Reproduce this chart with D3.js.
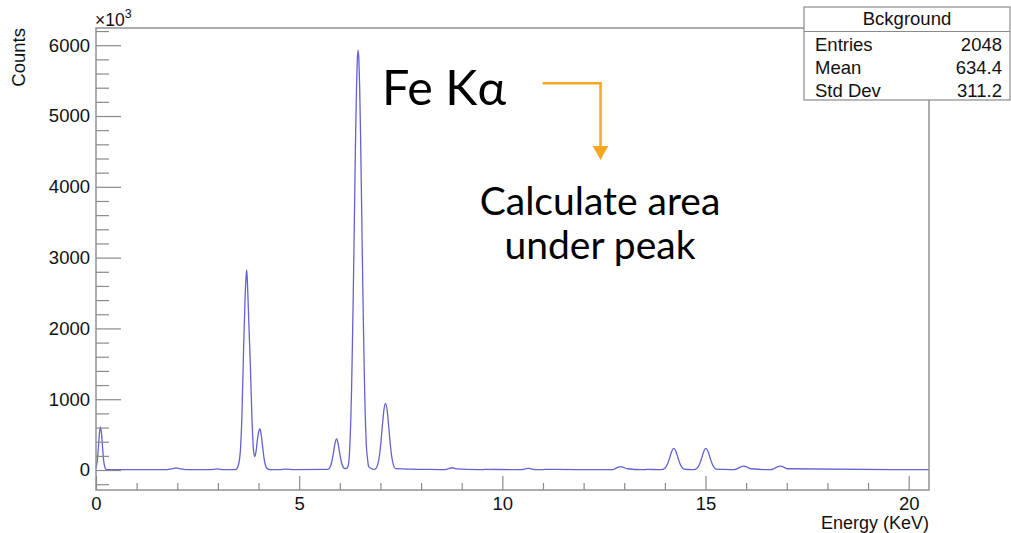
<!DOCTYPE html>
<html>
<head>
<meta charset="utf-8">
<script src="https://cdn.jsdelivr.net/npm/d3@7"></script>
<style>
  html, body { margin: 0; padding: 0; background: #fff; }
  svg { display: block; }
</style>
</head>
<body>
<svg id="chart" width="1011" height="533"></svg>
<script>
// ---- Data (energy in keV, counts) ----
const energy = [
  0.00, 0.03, 0.06, 0.085, 0.11, 0.135, 0.16, 0.19, 0.22, 0.26,
  1.75, 1.85, 1.97, 2.09, 2.20,
  2.80, 2.98, 3.15,
  3.42, 3.46, 3.50, 3.55, 3.59, 3.63, 3.67, 3.70, 3.71, 3.73, 3.76, 3.80, 3.84, 3.88, 3.91,
  3.94, 3.98, 4.02, 4.035, 4.06, 4.10, 4.14, 4.18, 4.23, 4.30,
  4.50, 4.69, 4.88,
  5.70, 5.76, 5.80, 5.84, 5.88, 5.92, 5.96, 6.00, 6.04, 6.08, 6.12,
  6.17, 6.20, 6.23, 6.25, 6.27, 6.29, 6.31, 6.33, 6.35, 6.37, 6.39, 6.41, 6.43,
  6.45, 6.47, 6.49, 6.51, 6.53, 6.55, 6.57, 6.59, 6.61, 6.63, 6.65, 6.68, 6.71,
  6.76, 6.805, 6.845, 6.885, 6.925, 6.965, 7.005, 7.045, 7.085, 7.125, 7.165, 7.205, 7.245, 7.285, 7.325, 7.37,
  8.45, 8.55, 8.66, 8.77, 8.87,
  9.42, 9.49, 9.56,
  10.38, 10.46, 10.55, 10.64, 10.72,
  10.90, 10.97, 11.04,
  12.60, 12.70, 12.77, 12.84, 12.91, 12.98, 13.08,
  13.43, 13.50, 13.57,
  13.87, 13.92, 13.97, 14.02, 14.07, 14.12, 14.17, 14.22, 14.27, 14.32, 14.37, 14.42, 14.47,
  14.66, 14.71, 14.76, 14.81, 14.86, 14.91, 14.96, 15.01, 15.06, 15.11, 15.16, 15.21, 15.26,
  15.60, 15.70, 15.78, 15.86, 15.94, 16.02, 16.12,
  16.50, 16.60, 16.68, 16.76, 16.84, 16.92, 17.02,
  20.50
];
const counts = [
  35, 125, 330, 520, 610, 520, 330, 125, 35, 6,
  5, 15, 30, 15, 5,
  5, 15, 5,
  5, 15, 60, 250, 750, 1650, 2450, 2780, 2825, 2600, 2100, 1450, 700, 260, 190,
  270, 460, 572, 580, 520, 330, 150, 50, 12, 5,
  5, 14, 5,
  8, 40, 110, 230, 370, 438, 370, 230, 110, 45, 22,
  25, 50, 170, 380, 700, 1150, 1768, 2438, 3198, 3995, 4749, 5373, 5787, 5930,
  5787, 5373, 4749, 3995, 3198, 2438, 1768, 1150, 700, 380, 170, 50, 25,
  12, 8, 20, 62, 163, 350, 608, 845, 942, 845, 608, 350, 163, 62, 20, 6,
  5, 15, 32, 15, 5,
  5, 9, 5,
  5, 14, 24, 14, 5,
  5, 9, 5,
  5, 18, 36, 47, 36, 18, 5,
  5, 10, 5,
  7, 14, 38, 91, 177, 266, 305, 266, 177, 91, 38, 14, 7,
  7, 14, 38, 91, 177, 266, 305, 266, 177, 91, 38, 14, 7,
  5, 18, 42, 56, 42, 18, 5,
  5, 18, 42, 56, 42, 18, 5,
  5
];
// ---- Axis ticks ----
const xMajorTicks = [0, 5, 10, 15, 20];
const xMinorTicks = [1,2,3,4,6,7,8,9,11,12,13,14,16,17,18,19];
const yMajorTicks = [0, 1000, 2000, 3000, 4000, 5000, 6000];
const yMinorTicks = [-200,200,400,600,800,1200,1400,1600,1800,2200,2400,2600,2800,3200,3400,3600,3800,4200,4400,4600,4800,5200,5400,5600,5800,6200];
const xDomain = [0, 20.5];
const yDomain = [-282, 6243];
// ---- Stats box ----
const statTitle = "Bckground";
const statLabels = ["Entries", "Mean", "Std Dev"];
const statValues = ["2048", "634.4", "311.2"];
// ---- Labels ----
const xTitle = "Energy (KeV)";
const yTitle = "Counts";
const annoPeak = "Fe K\u03b1";
const annoLines = ["Calculate area", "under peak"];

const svg = d3.select("#chart");
const W = 1011, H = 533;
const L = 96, R = 929, T = 28, B = 490;
const axisColor = "#8a8a8a";
const font = "'Liberation Sans', Arial, Helvetica, sans-serif";

svg.append("rect").attr("width", W).attr("height", H).attr("fill", "#fff");

const x = d3.scaleLinear().domain(xDomain).range([L, R]);
const y = d3.scaleLinear().domain(yDomain).range([B, T]);

// curve
const pts = energy.map((e, i) => [e, counts[i]]);
const line = d3.line().x(d => x(d[0])).y(d => y(d[1])).curve(d3.curveMonotoneX);
svg.append("path").datum(pts).attr("d", line)
  .attr("fill", "none").attr("stroke", "#6262d4").attr("stroke-width", 1.3)
  .attr("stroke-linejoin", "round");

// axes
function styleAxis(g) {
  g.select(".domain").remove();
  g.selectAll("line").attr("stroke", axisColor).attr("stroke-width", 1.2);
  g.selectAll("text").attr("fill", "#111").style("font-family", font).style("font-size", "18.5px");
}
svg.append("g").attr("transform", `translate(0,${B})`)
  .call(d3.axisBottom(x).tickValues(xMinorTicks).tickSize(-7).tickFormat(""))
  .call(styleAxis);
svg.append("g").attr("transform", `translate(0,${B})`)
  .call(d3.axisBottom(x).tickValues(xMajorTicks).tickSize(-14).tickPadding(7).tickFormat(d3.format("d")))
  .call(styleAxis);
svg.append("g").attr("transform", `translate(${L},0)`)
  .call(d3.axisLeft(y).tickValues(yMinorTicks).tickSize(-13).tickFormat(""))
  .call(styleAxis);
svg.append("g").attr("transform", `translate(${L},0)`)
  .call(d3.axisLeft(y).tickValues(yMajorTicks).tickSize(-25).tickPadding(6).tickFormat(d3.format("d")))
  .call(styleAxis);

// frame
svg.append("rect").attr("x", L).attr("y", T).attr("width", R - L).attr("height", B - T)
  .attr("fill", "none").attr("stroke", axisColor).attr("stroke-width", 1.4);

// titles
svg.append("text").attr("x", R).attr("y", 528.5).attr("text-anchor", "end")
  .style("font-family", font).style("font-size", "18px").attr("fill", "#111").text(xTitle);
svg.append("text").attr("transform", `translate(25,${T}) rotate(-90)`).attr("text-anchor", "end")
  .style("font-family", font).style("font-size", "18.5px").attr("fill", "#111").text(yTitle);
const mult = svg.append("text").attr("x", L - 1).attr("y", 25.5)
  .style("font-family", font).style("font-size", "17.5px").attr("fill", "#111");
mult.append("tspan").text("\u00d710");
mult.append("tspan").attr("dy", -8).style("font-size", "12.5px").text("3");

// stats box
const bx = 804, by = 7, bw = 206, bh = 93;
svg.append("rect").attr("x", bx).attr("y", by).attr("width", bw).attr("height", bh)
  .attr("fill", "#fff").attr("stroke", axisColor).attr("stroke-width", 1.2);
svg.append("line").attr("x1", bx).attr("x2", bx + bw).attr("y1", 31.5).attr("y2", 31.5)
  .attr("stroke", axisColor).attr("stroke-width", 1.2);
svg.append("text").attr("x", bx + bw / 2).attr("y", 25).attr("text-anchor", "middle")
  .style("font-family", font).style("font-size", "18.5px").attr("fill", "#111").text(statTitle);
const rowY = [51, 74, 96.5];
statLabels.forEach((s, i) => {
  svg.append("text").attr("x", 815).attr("y", rowY[i])
    .style("font-family", font).style("font-size", "18.5px").attr("fill", "#111").text(s);
  svg.append("text").attr("x", 1002).attr("y", rowY[i]).attr("text-anchor", "end")
    .style("font-family", font).style("font-size", "18.5px").attr("fill", "#111").text(statValues[i]);
});

// annotations
const annoFont = "Lato, 'Open Sans', sans-serif";
svg.append("text").attr("x", 382).attr("y", 105)
  .style("font-family", annoFont).style("font-size", "48.5px").attr("fill", "#000").text(annoPeak);
annoLines.forEach((t, i) => {
  svg.append("text").attr("x", 600).attr("y", 215 + i * 43.5).attr("text-anchor", "middle")
    .style("font-family", annoFont).style("font-size", "39px").attr("fill", "#000").text(t);
});
const orange = "#f5a623";
svg.append("path").attr("d", "M542.7,83.3 H600.5 V147")
  .attr("fill", "none").attr("stroke", orange).attr("stroke-width", 2.5);
svg.append("path").attr("d", "M592.7,146 L608.3,146 L600.5,160 Z").attr("fill", orange);
</script>
</body>
</html>
